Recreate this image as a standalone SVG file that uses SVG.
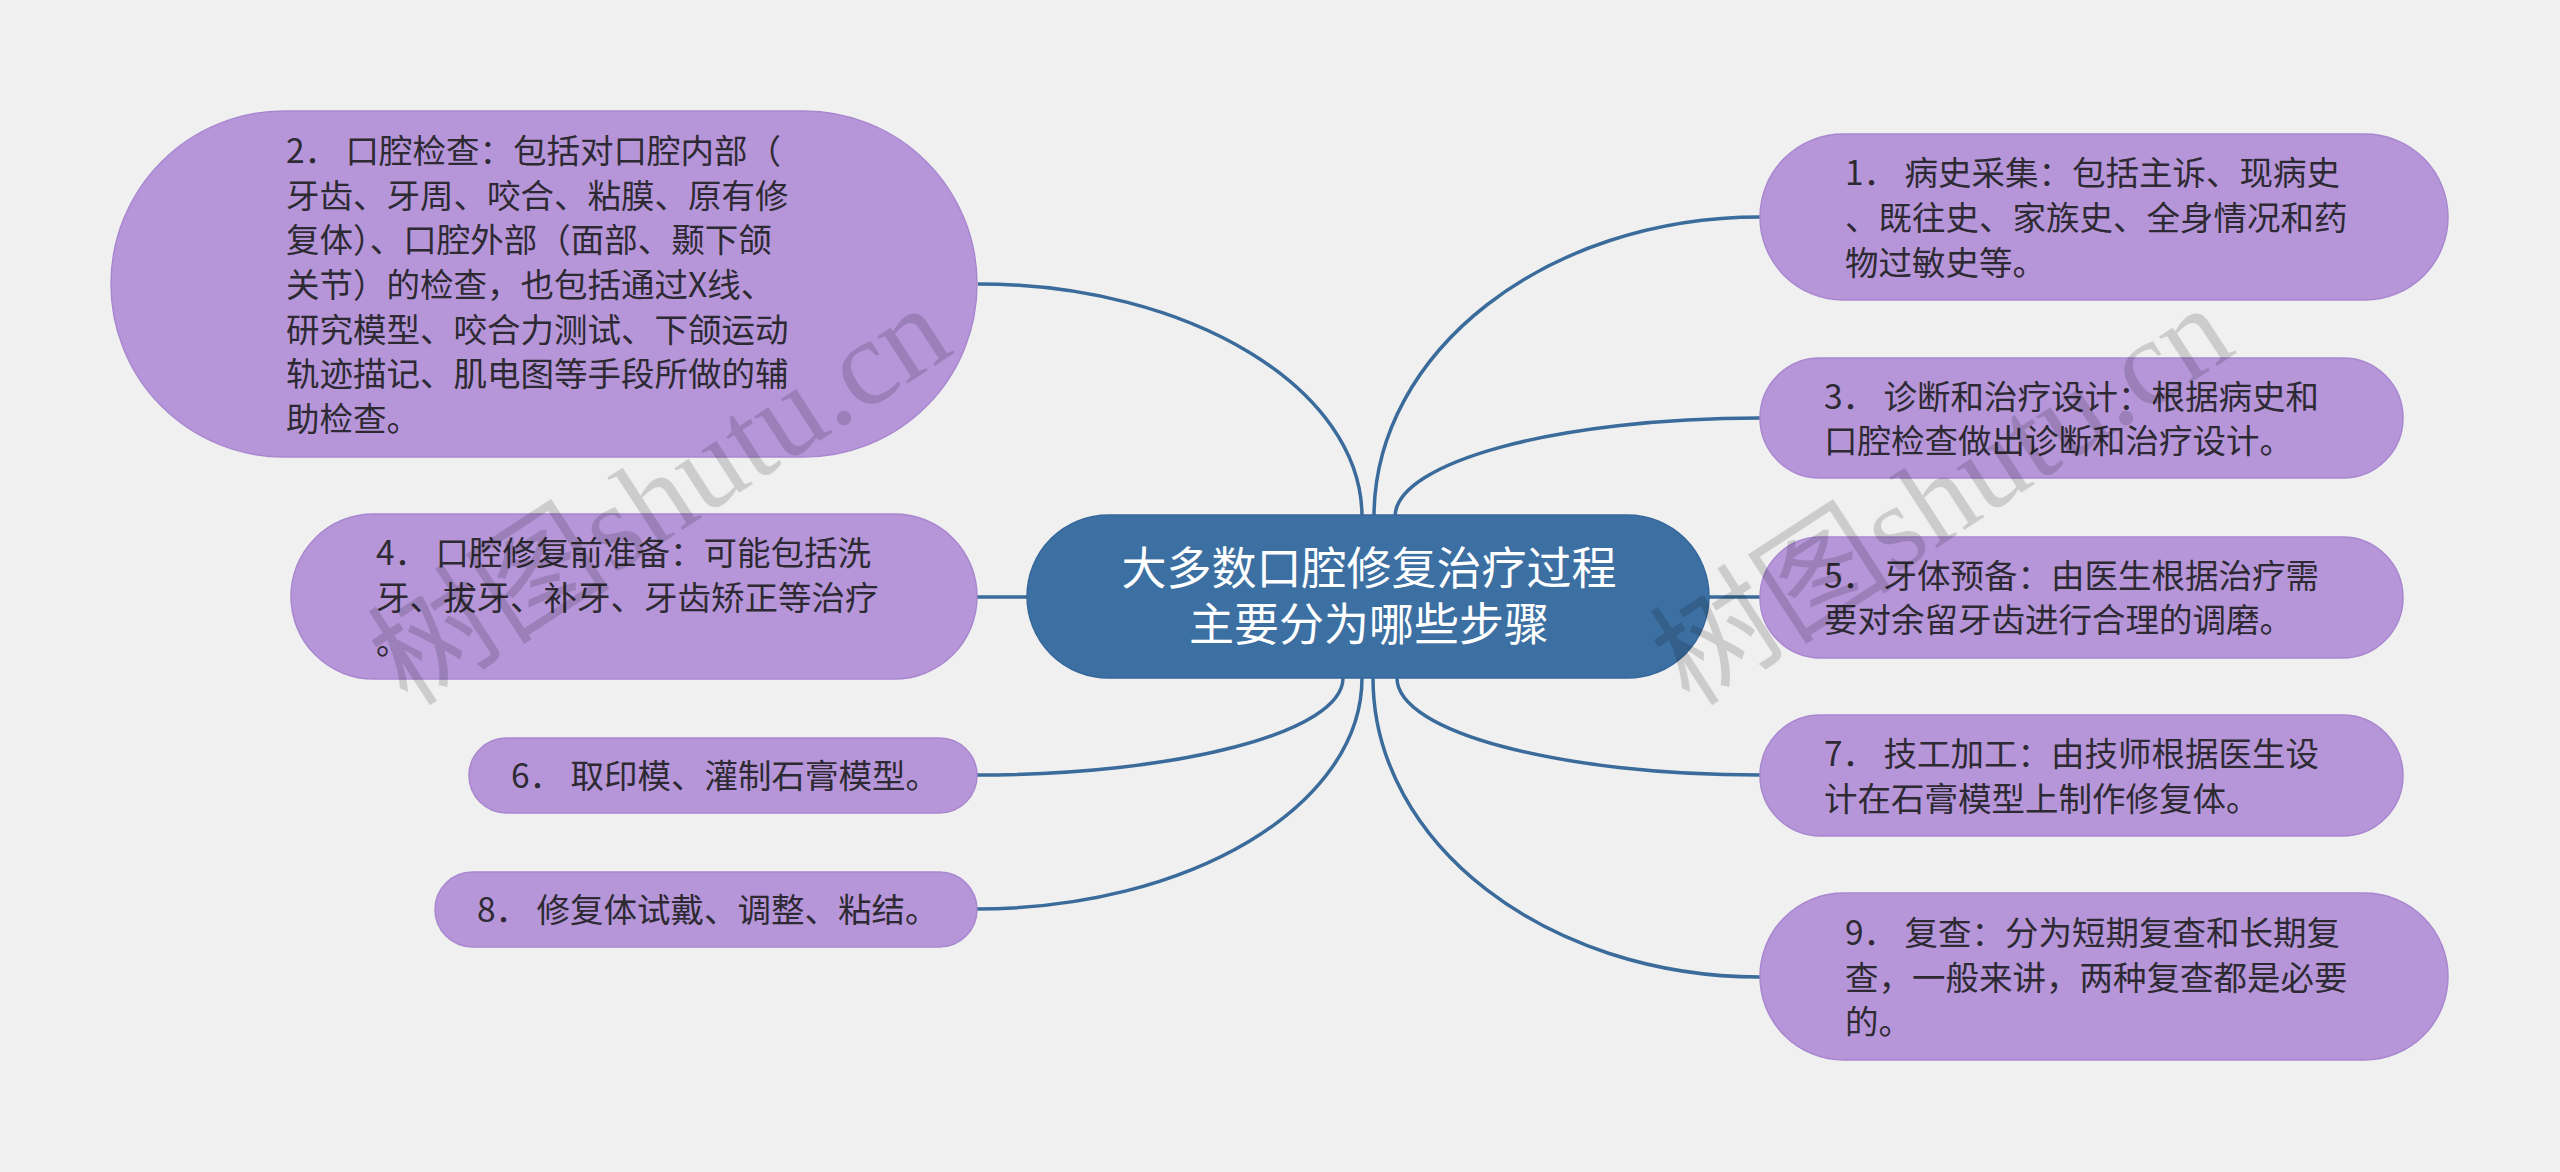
<svg xmlns="http://www.w3.org/2000/svg" width="2560" height="1172" viewBox="0 0 2560 1172">
<style>
.bg{fill:#f0f0f0}
.node rect{fill:#b696d9;stroke:#a887cf;stroke-width:1.5}
.root rect{fill:#3c70a3;stroke:#36679a;stroke-width:1.5}
.node text{font-family:"Noto Sans CJK SC","Noto Sans",sans-serif;font-size:33.5px;fill:#2e2a33}
.root text{font-family:"Noto Sans CJK SC","Noto Sans",sans-serif;font-size:45px;fill:#ffffff;text-anchor:middle}
.links path{fill:none;stroke:#3a6b9b;stroke-width:3.5}
.wm{font-family:"Liberation Serif","Noto Sans CJK SC",serif;font-size:122px;fill:#000;fill-opacity:0.15}
</style>
<rect class="bg" x="0" y="0" width="2560" height="1172"/>
<g id="connectors" class="links">
<path d="M 978,284 C 1190,284 1362,389 1362,517"/>
<path d="M 1760,217 C 1547,217 1374,351 1374,517"/>
<path d="M 1760,418 C 1558,418 1395,462 1395,517"/>
<path d="M 976,597 L 1027,597"/>
<path d="M 1709,597 L 1760,597"/>
<path d="M 976,775 C 1179,775 1343,732 1343,678"/>
<path d="M 976,909 C 1189,909 1362,806 1362,678"/>
<path d="M 1760,775 C 1560,775 1397,732 1397,678"/>
<path d="M 1760,977 C 1546,977 1373,843 1373,678"/>
</g>
<g id="root" class="root">
<rect x="1027" y="515" width="682" height="163" rx="81.5" ry="81.5"/>
<text x="1369" y="585">大多数口腔修复治疗过程</text>
<text x="1369" y="641">主要分为哪些步骤</text>
</g>
<g id="node1" class="node">
<rect x="1760" y="134" width="688" height="166" rx="83" ry="83"/>
<text x="1845" y="185">1． 病史采集：包括主诉、现病史</text>
<text x="1845" y="230">、既往史、家族史、全身情况和药</text>
<text x="1845" y="275">物过敏史等。</text>
</g>
<g id="node2" class="node">
<rect x="111" y="111" width="866" height="346" rx="173" ry="173"/>
<text x="286" y="163">2． 口腔检查：包括对口腔内部（</text>
<text x="286" y="208">牙齿、牙周、咬合、粘膜、原有修</text>
<text x="286" y="252">复体）、口腔外部（面部、颞下颌</text>
<text x="286" y="297">关节）的检查，也包括通过X线、</text>
<text x="286" y="342">研究模型、咬合力测试、下颌运动</text>
<text x="286" y="386">轨迹描记、肌电图等手段所做的辅</text>
<text x="286" y="431">助检查。</text>
</g>
<g id="node3" class="node">
<rect x="1760" y="358" width="643" height="120" rx="60" ry="60"/>
<text x="1824" y="409">3． 诊断和治疗设计：根据病史和</text>
<text x="1824" y="453">口腔检查做出诊断和治疗设计。</text>
</g>
<g id="node4" class="node">
<rect x="291" y="514" width="686" height="165" rx="82.5" ry="82.5"/>
<text x="376" y="565">4． 口腔修复前准备：可能包括洗</text>
<text x="376" y="610">牙、拔牙、补牙、牙齿矫正等治疗</text>
<text x="376" y="654">。</text>
</g>
<g id="node5" class="node">
<rect x="1760" y="537" width="643" height="121" rx="60.5" ry="60.5"/>
<text x="1824" y="588">5． 牙体预备：由医生根据治疗需</text>
<text x="1824" y="632">要对余留牙齿进行合理的调磨。</text>
</g>
<g id="node6" class="node">
<rect x="469" y="738" width="508" height="75" rx="37.5" ry="37.5"/>
<text x="511" y="788">6． 取印模、灌制石膏模型。</text>
</g>
<g id="node7" class="node">
<rect x="1760" y="715" width="643" height="121" rx="60.5" ry="60.5"/>
<text x="1824" y="766">7． 技工加工：由技师根据医生设</text>
<text x="1824" y="811">计在石膏模型上制作修复体。</text>
</g>
<g id="node8" class="node">
<rect x="435" y="872" width="542" height="75" rx="37.5" ry="37.5"/>
<text x="477" y="922">8． 修复体试戴、调整、粘结。</text>
</g>
<g id="node9" class="node">
<rect x="1760" y="893" width="688" height="167" rx="83.5" ry="83.5"/>
<text x="1845" y="945">9． 复查：分为短期复查和长期复</text>
<text x="1845" y="990">查，一般来讲，两种复查都是必要</text>
<text x="1845" y="1034">的。</text>
</g>
<g id="watermarks">
<text class="wm" transform="translate(408,708) rotate(-33)">树图shutu.cn</text>
<text class="wm" transform="translate(1690,708) rotate(-33)">树图shutu.cn</text>
</g>
</svg>
